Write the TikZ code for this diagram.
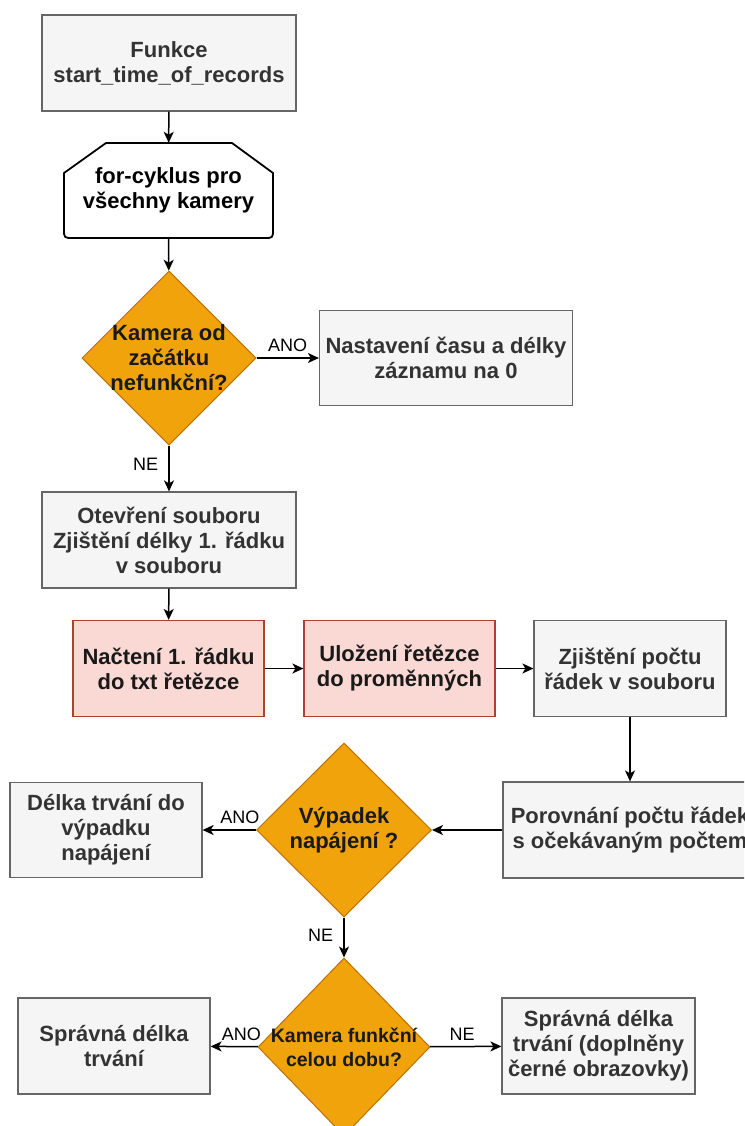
\documentclass[tikz,border=0pt]{standalone}
\usepackage{fontspec}
\setmainfont{Liberation Sans}
\usetikzlibrary{shapes.geometric,arrows.meta}

\definecolor{boxfill}{HTML}{F5F5F5}
\definecolor{boxline}{HTML}{666666}
\definecolor{boxtext}{HTML}{333333}
\definecolor{pinkfill}{HTML}{FAD9D5}
\definecolor{pinkline}{HTML}{AE4132}
\definecolor{decfill}{HTML}{F0A30A}
\definecolor{decline}{HTML}{BD7000}

\tikzset{
  every node/.style={font=\fontsize{22}{25}\selectfont\bfseries, align=center, inner sep=0pt},
  greybox/.style={rectangle, draw=boxline, fill=boxfill, text=boxtext, line width=1.2pt},
  pinkbox/.style={rectangle, draw=pinkline, fill=pinkfill, text=black!90, line width=1.2pt},
  decision/.style={diamond, aspect=1, draw=decline, fill=decfill, line width=1pt},
  dectext/.style={text=black!90},
  loopshape/.style={draw=black, fill=white, line width=1.8pt, line join=round},
  flow/.style={draw=black, line width=1.5pt, -{Stealth[length=11pt,width=10pt,inset=3pt]}},
  answer/.style={font=\fontsize{18}{21}\selectfont, text=black}
}

\begin{document}
\begin{tikzpicture}[x=1pt,y=-1pt]
  \useasboundingbox (0,0) rectangle (744,1126);
  \clip (0,0) rectangle (744,1126);
  \fill[white] (0,0) rectangle (744,1126);

  % start of the function
  \node[greybox, minimum width=254pt, minimum height=96pt] (start) at (169,63)
    {Funkce\\start\_time\_of\_records};

  % loop over all cameras
  \draw[loopshape] (64,173) -- (106,143) -- (232,143) -- (273,173) -- (273,229)
    .. controls (273,238) .. (264,238) -- (73,238)
    .. controls (64,238) .. (64,229) -- cycle;
  \node[minimum width=209pt, minimum height=95pt] (loop) at (168.5,190.5)
    {for-cyklus pro\\všechny kamery};

  % camera dead from the beginning?
  \node[decision, minimum width=174pt, minimum height=174pt] (d1) at (169,358) {};
  \node[dectext] (d1t) at (d1.center) {Kamera od\\začátku\\nefunkční?};
  \node[greybox, minimum width=253pt, minimum height=95pt] (zero) at (446,358)
    {Nastavení času a délky\\záznamu na 0};

  % open the file
  \node[greybox, minimum width=254pt, minimum height=96pt] (open) at (169,540)
    {Otevření souboru\\Zjištění délky 1. řádku\\v souboru};

  % read and store the first line
  \node[pinkbox, minimum width=191pt, minimum height=96pt] (read) at (168.5,668.5)
    {Načtení 1. řádku\\do txt řetězce};
  \node[pinkbox, minimum width=191pt, minimum height=96pt] (store) at (399.5,668.5)
    {Uložení řetězce\\do proměnných};
  \node[greybox, minimum width=192pt, minimum height=96pt] (count) at (630,668.5)
    {Zjištění počtu\\řádek v souboru};

  % compare line count (runs past the right edge)
  \node[greybox, minimum width=254pt, minimum height=96pt] (compare) at (630,830)
    {Porovnání počtu řádek\\s očekávaným počtem};

  % power failure?
  \node[decision, minimum width=175pt, minimum height=174pt] (d2) at (344,830) {};
  \node[dectext] (d2t) at (d2.center) {Výpadek\\napájení ?};
  \node[greybox, minimum width=192pt, minimum height=95pt] (fail) at (106,830)
    {Délka trvání do\\výpadku\\napájení};

  % camera working the whole time?
  \node[decision, minimum width=172pt, minimum height=178pt] (d3) at (344,1047) {};
  \node[dectext, font=\fontsize{19.5}{24}\selectfont\bfseries] (d3t) at (d3.center)
    {Kamera funkční\\celou dobu?};
  \node[greybox, minimum width=192pt, minimum height=96pt] (ok) at (114,1046)
    {Správná délka\\trvání};
  \node[greybox, minimum width=193pt, minimum height=96pt] (okfill) at (598.5,1046)
    {Správná délka\\trvání (doplněny\\černé obrazovky)};

  % connectors
  \draw[flow] (start) -- (loop);
  \draw[flow] (loop) -- (d1);
  \draw[flow] (d1) -- node[answer, above=6pt] (l1) {ANO} (zero);
  \draw[flow] (d1) -- node[answer, left=10pt, pos=0.4] (l2) {NE} (open);
  \draw[flow] (open) -- (read);
  \draw[flow] (read) -- (store);
  \draw[flow] (store) -- (count);
  \draw[flow] (count) -- (compare);
  \draw[draw=black!50, line width=2.6pt] (compare.west) -- ([xshift=9pt]d2.east);
  \draw[flow] (compare) -- (d2);
  \draw[flow] (d2) -- node[answer, above=6pt, pos=0.3] (l3) {ANO} (fail);
  \draw[flow] (d2) -- node[answer, left=10pt, pos=0.45] (l4) {NE} (d3);
  \draw[flow] (d3) -- node[answer, above=5pt, pos=0.35] (l5) {ANO} (ok);
  \draw[flow] (d3) -- node[answer, above=5pt, pos=0.45] (l6) {NE} (okfill);
\end{tikzpicture}
\end{document}
